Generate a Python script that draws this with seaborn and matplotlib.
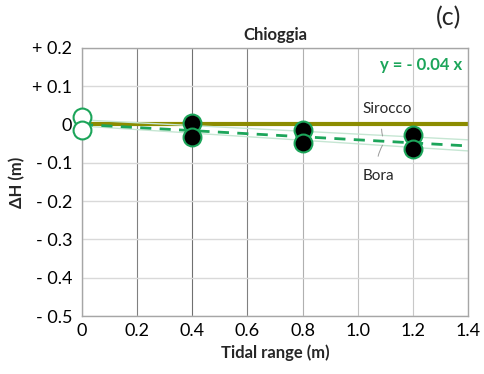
import matplotlib
matplotlib.use("Agg")
import matplotlib.pyplot as plt
import seaborn as sns
import numpy as np
import pandas as pd

# Data
tidal_range = [0.0, 0.4, 0.8, 1.2]
sirocco_dh = [0.02, 0.003, -0.014, -0.027]
bora_dh = [-0.015, -0.033, -0.049, -0.063]
fit_slope = -0.04
sirocco_line_x = [0.0, 1.4]
sirocco_line_y = [0.012, -0.040]
bora_line_x = [0.0, 1.4]
bora_line_y = [-0.004, -0.069]
xticks = [0, 0.2, 0.4, 0.6, 0.8, 1.0, 1.2, 1.4]
xtick_labels = ["0", "0.2", "0.4", "0.6", "0.8", "1.0", "1.2", "1.4"]
yticks = [0.2, 0.1, 0.0, -0.1, -0.2, -0.3, -0.4, -0.5]
ytick_labels = ["+ 0.2", "+ 0.1", "0", "- 0.1", "- 0.2", "- 0.3", "- 0.4", "- 0.5"]

sns.set_theme(style="white")
plt.rcParams['font.family'] = ['Lato', 'DejaVu Sans']

green = "#1ca55a"
olive = "#8c8c00"

fig = plt.figure(figsize=(4.85, 3.74), dpi=100)
ax = fig.add_axes([0.169, 0.155, 0.796, 0.717])

ax.set_xlim(0, 1.4)
ax.set_ylim(-0.5, 0.2)

# grid
ax.set_xticks(xticks)
ax.set_yticks(yticks)
ax.grid(True, axis="y", color="#d9d9d9", linewidth=1.0)
ax.grid(True, axis="x", color="#a0a0a0", linewidth=0.8)
xcols = ["#888888", "#808080", "#707070", "#808080", "#b0b0b0", "#c0c0c0", "#c8c8c8", "#d0d0d0"]
for gl, c in zip(ax.get_xgridlines(), xcols):
    gl.set_color(c)
ax.set_axisbelow(True)
for s in ax.spines.values():
    s.set_color("#a6a6a6")
    s.set_linewidth(1.0)

# zero line
ax.axhline(0, color=olive, linewidth=3, zorder=2)

# thin trend lines
sns.lineplot(x=sirocco_line_x, y=sirocco_line_y, ax=ax, color="#c6e6d3", linewidth=1.0, zorder=2)
sns.lineplot(x=bora_line_x, y=bora_line_y, ax=ax, color="#c6e6d3", linewidth=1.0, zorder=2)

# fit
fx = np.array([0.0, 1.4])
ax.plot(fx, fit_slope * fx, color=green, linewidth=2, linestyle=(0, (4, 3)), zorder=3)

# points
df = pd.DataFrame({"x": tidal_range * 2, "y": sirocco_dh + bora_dh})
filled = df[df["x"] > 0]
open_ = df[df["x"] == 0]
sns.scatterplot(data=filled, x="x", y="y", ax=ax, s=165, color="black",
                edgecolor=green, linewidth=1.5, zorder=5, clip_on=False)
sns.scatterplot(data=open_, x="x", y="y", ax=ax, s=165, color="white",
                edgecolor=green, linewidth=1.5, zorder=5, clip_on=False)

ax.set_xticklabels(xtick_labels, fontsize=13)
ax.set_yticklabels(ytick_labels, fontsize=13)
ax.tick_params(axis="y", length=0, pad=7, colors="black")
ax.tick_params(axis="x", length=0, pad=5, colors="black")
ax.set_xlabel("Tidal range (m)", fontsize=12, fontweight="bold", labelpad=4)
ax.set_ylabel("ΔH (m)", fontsize=12, fontweight="bold", labelpad=5)
ax.set_title("Chioggia", fontsize=12, fontweight="bold", pad=6)

fig.text(0.925, 0.952, "(c)", fontsize=18, ha="center", va="center")
ax.text(1.38, 0.155, "y = - 0.04 x", color=green, fontsize=12, fontweight="bold",
        ha="right", va="center")

ax.annotate("Sirocco", xy=(1.09, -0.03), xytext=(1.105, 0.04), fontsize=11,
            ha="center", va="center",
            arrowprops=dict(arrowstyle="-", color="#999999", lw=0.7,
                            connectionstyle="arc3,rad=0.2", shrinkA=7, shrinkB=0))
ax.annotate("Bora", xy=(1.09, -0.054), xytext=(1.075, -0.135), fontsize=11,
            ha="center", va="center",
            arrowprops=dict(arrowstyle="-", color="#999999", lw=0.7,
                            connectionstyle="arc3,rad=-0.2", shrinkA=7, shrinkB=0))

fig.savefig("out.png", dpi=100)
